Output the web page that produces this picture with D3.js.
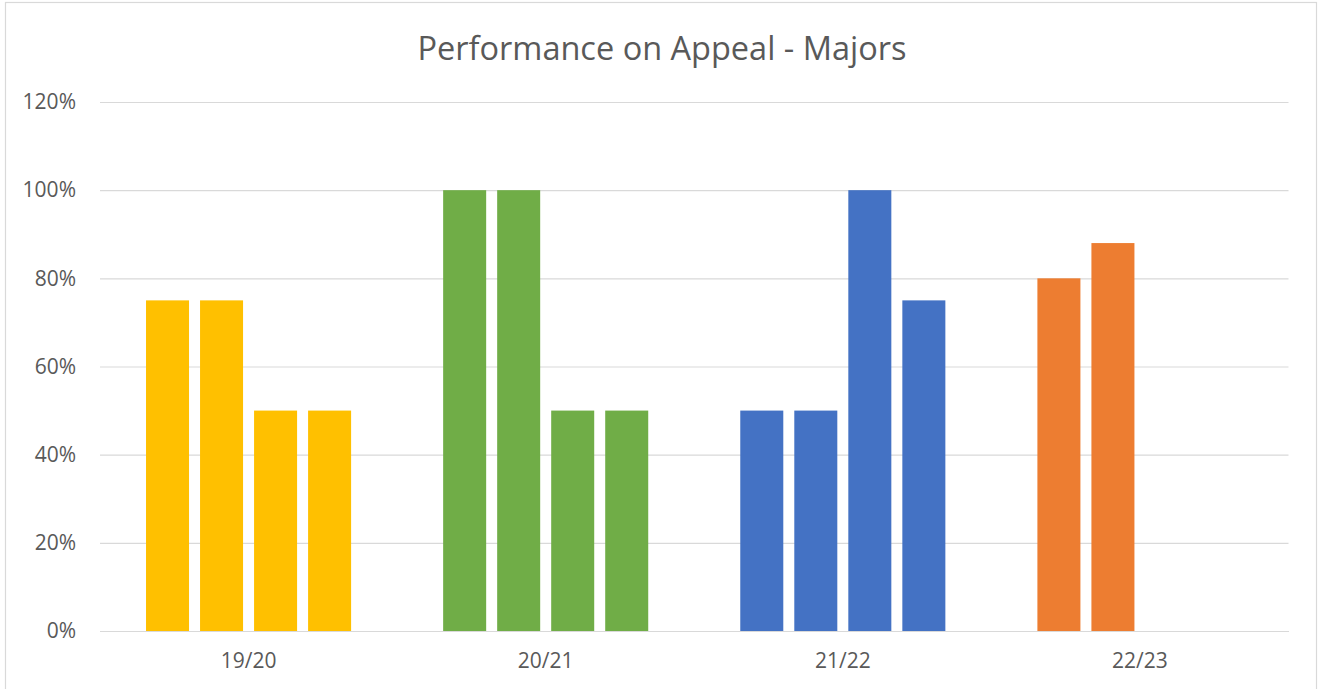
<!DOCTYPE html>
<html>
<head>
<meta charset="utf-8">
<script src="https://cdn.jsdelivr.net/npm/d3@7"></script>
<style>
  html, body { margin: 0; padding: 0; background: #fff; }
  svg { display: block; }
</style>
</head>
<body>
<svg id="chart" width="1319" height="689"></svg>
<script>
const title = "Performance on Appeal - Majors";
const categories = ["19/20", "20/21", "21/22", "22/23"];
const slots = ["Q1", "Q2", "Q3", "Q4"];
const values1920 = [0.75, 0.75, 0.50, 0.50];
const values2021 = [1.00, 1.00, 0.50, 0.50];
const values2122 = [0.50, 0.50, 1.00, 0.75];
const values2223 = [0.80, 0.88, null, null];
const seriesValues = [values1920, values2021, values2122, values2223];
const colors = ["#FFC000", "#70AD47", "#4472C4", "#ED7D31"];
const yTicks = [0, 0.2, 0.4, 0.6, 0.8, 1.0, 1.2];

const svg = d3.select("#chart");
const m = { left: 100, right: 1288.5, top: 102, bottom: 631 };

// chart border
svg.append("rect")
  .attr("x", 5.5).attr("y", 2.5)
  .attr("width", 1311).attr("height", 720)
  .attr("fill", "#fff").attr("stroke", "#D9D9D9").attr("stroke-width", 1.2);

const x0 = d3.scaleBand().domain(categories).range([m.left, m.right]).paddingInner(0).paddingOuter(0);
const x1 = d3.scaleBand().domain(slots).range([0, x0.bandwidth()])
  .paddingInner(11 / 54).paddingOuter(46 / 54);
const y = d3.scaleLinear().domain([0, 1.2]).range([m.bottom, m.top]);

// gridlines
const yAxis = d3.axisLeft(y).tickValues(yTicks).tickFormat(d3.format(".0%"))
  .tickSize(-(m.right - m.left)).tickPadding(24);
const gy = svg.append("g").attr("transform", `translate(${m.left},0)`).call(yAxis);
gy.select(".domain").remove();
gy.selectAll(".tick line").attr("stroke", "#D9D9D9").attr("stroke-width", 1.2);
gy.selectAll(".tick text")
  .attr("fill", "#595959")
  .style("font-family", "'Open Sans', sans-serif")
  .style("font-size", "21px");

// bars
const groups = svg.append("g").selectAll("g")
  .data(categories)
  .join("g")
  .attr("transform", d => `translate(${x0(d)},0)`);

groups.each(function (cat, ci) {
  const data = slots.map((s, si) => ({ s, v: seriesValues[ci][si] })).filter(d => d.v != null);
  d3.select(this).selectAll("rect")
    .data(data)
    .join("rect")
    .attr("x", d => x1(d.s))
    .attr("width", x1.bandwidth())
    .attr("y", d => y(d.v))
    .attr("height", d => y(0) - y(d.v))
    .attr("fill", colors[ci]);
});

// x axis
const xAxis = d3.axisBottom(x0).tickSize(0).tickPadding(22);
const gx = svg.append("g").attr("transform", `translate(0,${m.bottom})`).call(xAxis);
gx.select(".domain").attr("stroke", "#D9D9D9").attr("stroke-width", 1.2);
gx.selectAll(".tick text")
  .attr("fill", "#595959")
  .style("font-family", "'Open Sans', sans-serif")
  .style("font-size", "21px");

// title
svg.append("text")
  .attr("x", 662).attr("y", 59.5)
  .attr("text-anchor", "middle")
  .attr("fill", "#595959")
  .style("font-family", "'Open Sans', sans-serif")
  .style("font-size", "32.5px")
  .text(title);
</script>
</body>
</html>
